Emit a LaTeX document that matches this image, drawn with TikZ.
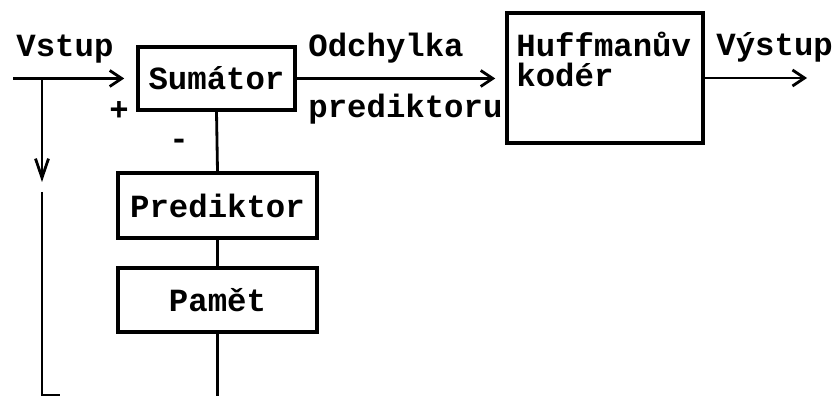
\documentclass[tikz,border=0pt]{standalone}
\usepackage{fontspec}
\setmainfont{Liberation Mono}
\usetikzlibrary{arrows.meta}

\begin{document}
\begin{tikzpicture}[line width=0.8pt,
  blok/.style={draw, line width=1pt, inner sep=0pt, font=\bfseries\fontsize{9.2}{10}\selectfont},
  popis/.style={inner sep=0pt, anchor=base west, font=\bfseries\fontsize{9.2}{10}\selectfont},
  sipka/.style={-{Straight Barb[length=1.2mm,width=1.6mm]}}]

  \useasboundingbox (0,0) rectangle (8.32,-3.96);

  % Bloky
  \node[blok, minimum width=1.57cm, minimum height=0.63cm] (sum) at (2.165,-0.785) {Sumátor};
  \node[blok, minimum width=1.96cm, minimum height=1.30cm] (huff) at (6.05,-0.78) {};
  \node[blok, minimum width=1.99cm, minimum height=0.65cm] (pred) at (2.175,-2.055) {Prediktor};
  \node[blok, minimum width=1.99cm, minimum height=0.64cm] (pam) at (2.175,-3.00) {Pamět};

  % Body vedeni
  \coordinate (vstup) at (0.13,-0.785);
  \coordinate (odb) at (0.42,-0.785);
  \coordinate (vSipka) at (0.42,-1.82);
  \coordinate (vDal) at (0.42,-1.92);
  \coordinate (doleL) at (0.42,-3.96);
  \coordinate (doleP) at (2.175,-3.96);
  \coordinate (vystup) at (8.07,-0.78);

  % Spoje
  \draw[sipka, shorten >=0.12cm] (vstup) -- (sum.west);
  \draw[-{Straight Barb[length=1.9mm,width=1.3mm]}] (odb) -- (vSipka);
  \draw (vDal) -- (doleL);
  \draw (0.42,-3.95) -- (0.60,-3.95);
  \draw[sipka, shorten >=0.10cm] (sum.east) -- (sum.east -| huff.west);
  \draw[sipka] (huff.east) -- (vystup);
  \draw (pred.north) -- (sum.south);
  \draw (pred.south) -- (pam.north);
  \draw (pam.south) -- (doleP);

  % Popisy
  \node[popis] (tVstup) at (0.15,-0.57) {Vstup};
  \node[popis] (tOdch) at (3.07,-0.57) {Odchylka};
  \node[popis] (tPred) at (3.07,-1.18) {prediktoru};
  \node[popis] (tVystup) at (7.15,-0.56) {Výstup};
  \node[popis] (tHuff) at (5.15,-0.57) {Huffmanův};
  \node[popis] (tKod) at (5.15,-0.87) {kodér};
  \node[popis, anchor=center] (plus) at (1.19,-1.115) {+};
  \node[popis, anchor=center] (minus) at (1.79,-1.445) {-};

\end{tikzpicture}
\end{document}
